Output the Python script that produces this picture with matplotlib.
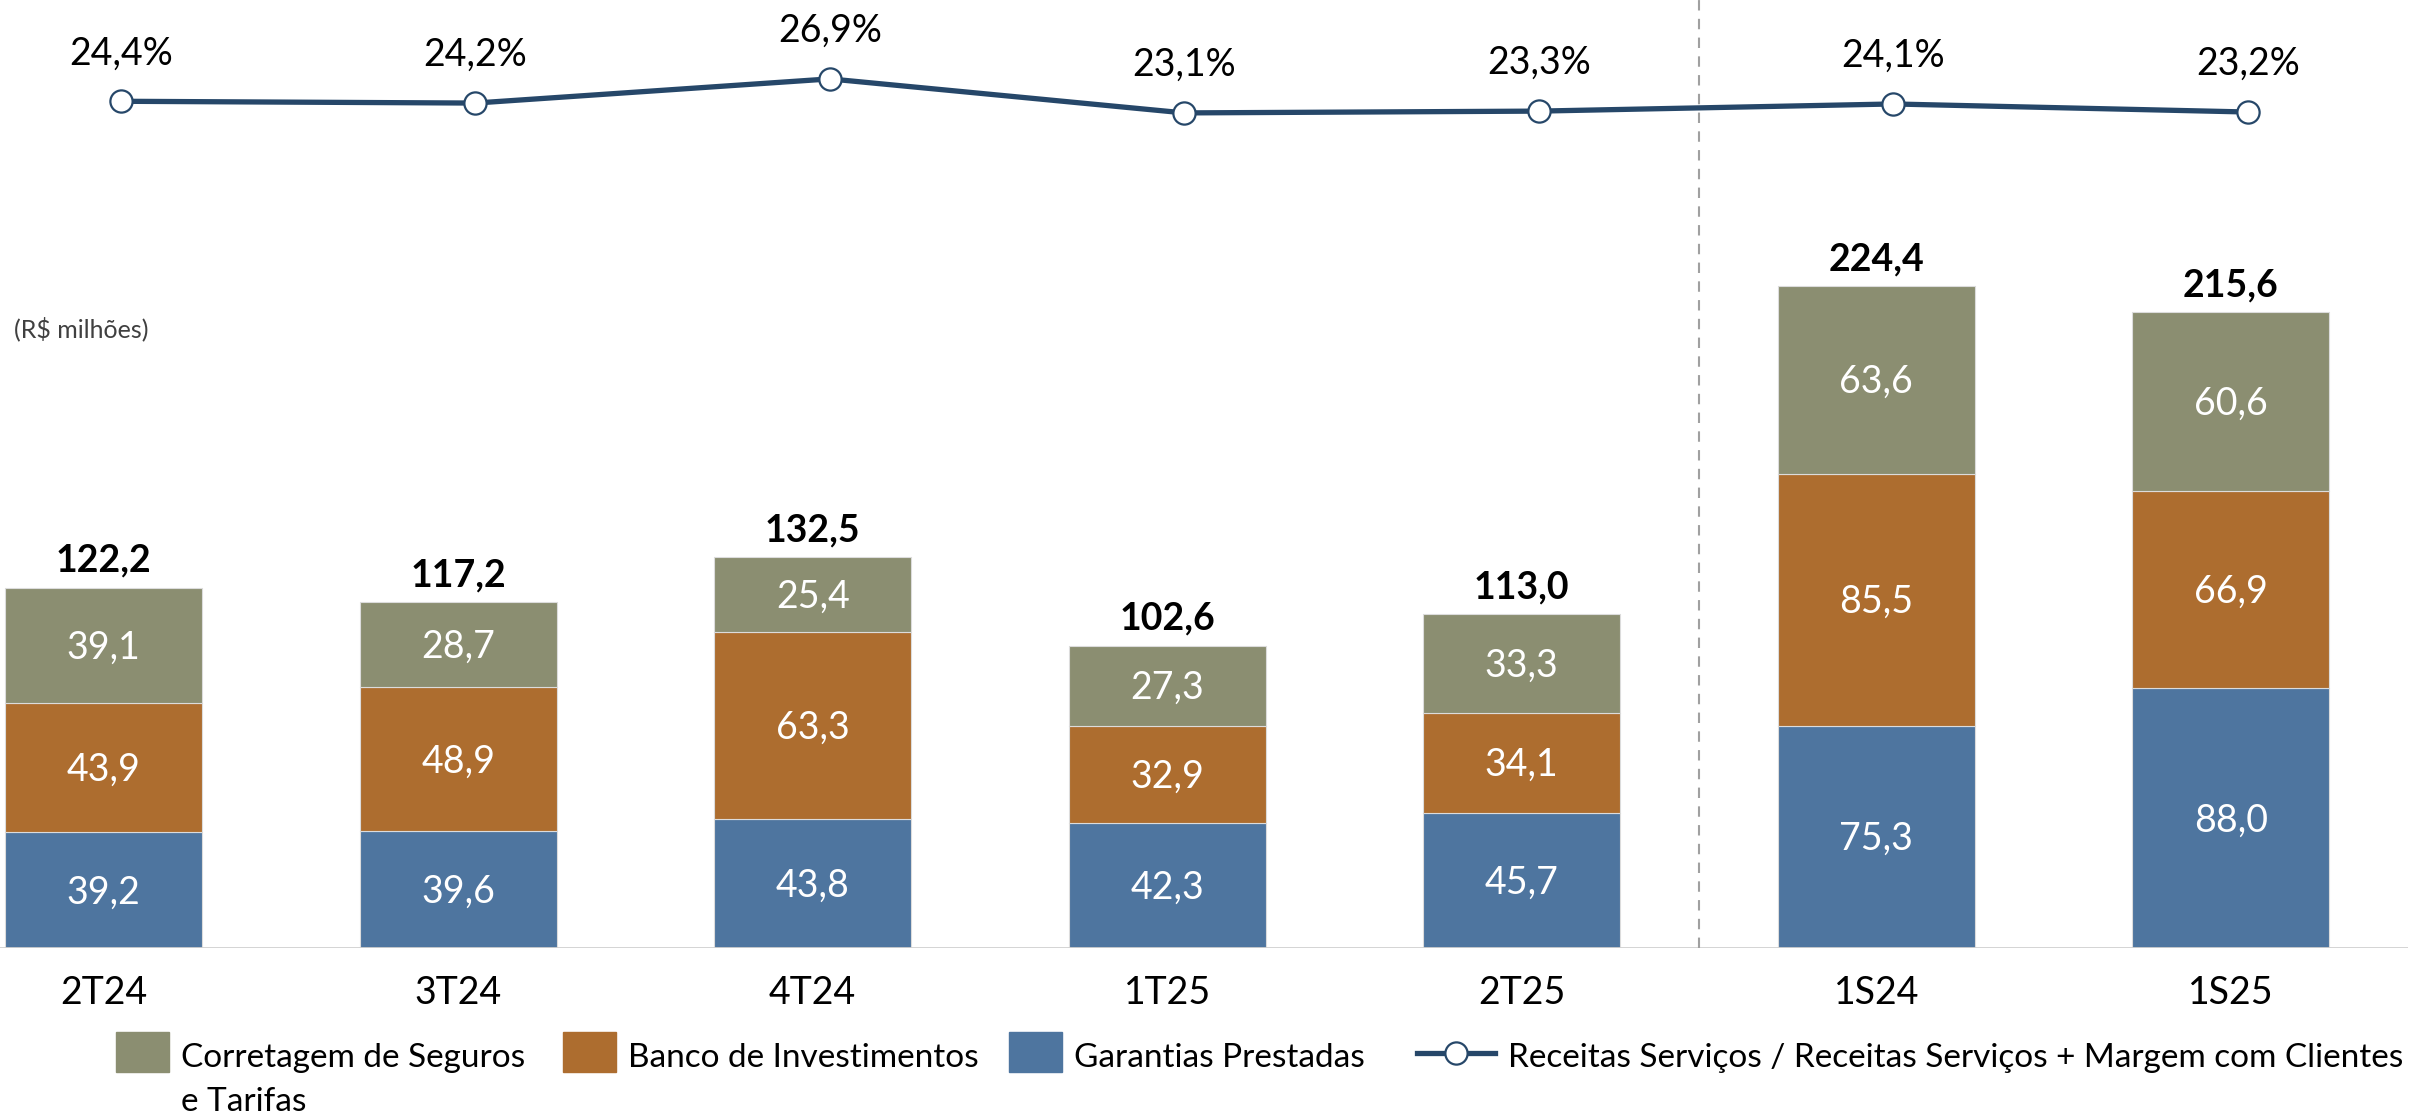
import matplotlib
matplotlib.use("Agg")
import matplotlib.pyplot as plt
from matplotlib.patches import Rectangle
from matplotlib.lines import Line2D
import numpy as np

plt.rcParams['font.family'] = ['Lato', 'DejaVu Sans']

# dados (R$ milhões)
cats = ['2T24', '3T24', '4T24', '1T25', '2T25', '1S24', '1S25']
garantias = [39.2, 39.6, 43.8, 42.3, 45.7, 75.3, 88.0]
banco = [43.9, 48.9, 63.3, 32.9, 34.1, 85.5, 66.9]
corretagem = [39.1, 28.7, 25.4, 27.3, 33.3, 63.6, 60.6]
totais = [122.2, 117.2, 132.5, 102.6, 113.0, 224.4, 215.6]
ratio = [24.4, 24.2, 26.9, 23.1, 23.3, 24.1, 23.2]

c_corr = '#8B8E71'
c_banco = '#AD6D2F'
c_gar = '#4E759F'
c_line = '#264769'

W, H = 2425, 1115
FS = 27


def fmt(v):
    return f"{v:.1f}".replace('.', ',')


fig = plt.figure(figsize=(W / 100, H / 100), dpi=100)
ax = fig.add_axes([0, (H - 948) / H, 2408 / W, 948 / H])
x = np.arange(len(cats))
bw = 0.555

g = np.array(garantias)
b = np.array(banco)
c = np.array(corretagem)
ax.bar(x, g, bw, color=c_gar, edgecolor='#dcdcdc', linewidth=0.8)
ax.bar(x, b, bw, bottom=g, color=c_banco, edgecolor='#dcdcdc', linewidth=0.8)
ax.bar(x, c, bw, bottom=g + b, color=c_corr, edgecolor='#dcdcdc', linewidth=0.8)

ax.set_xlim(-0.2925, 6.50)
ax.set_ylim(0, 948 / 2.95)
for s in ax.spines.values():
    s.set_visible(False)
ax.set_xticks([])
ax.set_yticks([])
ax.axhline(0, color='#d0d0d0', lw=2)
ax.axvline(4.5, color='#a0a0a0', lw=1.5, ls=(0, (5, 4)))

# rótulos internos
for i in range(len(cats)):
    bottoms = [0, g[i], g[i] + b[i]]
    vals = [g[i], b[i], c[i]]
    for bot, v in zip(bottoms, vals):
        ax.annotate(fmt(v), (x[i], bot + v / 2), xytext=(0, -9.5),
                    textcoords='offset points', ha='center', va='baseline',
                    color='white', fontsize=FS)
    ax.annotate(fmt(totais[i]), (x[i], g[i] + b[i] + c[i]), xytext=(0, 11.5),
                textcoords='offset points', ha='center', va='baseline',
                color='black', fontsize=FS, fontweight='bold')
    ax.annotate(cats[i], (x[i], 0), xytext=(0, -56 / 1.389),
                textcoords='offset points', ha='center', va='baseline',
                color='black', fontsize=FS)

# linha de participação (levemente deslocada para a direita, como no original)
ax2 = ax.twinx()
top = 26.9 + 78.9 / 8.95
ax2.set_ylim(top - 948 / 8.95, top)
ax2.set_yticks([])
for s in ax2.spines.values():
    s.set_visible(False)
xl = x + 0.048
ax2.plot(xl, ratio, color=c_line, lw=3.8, marker='o', markersize=16,
         markerfacecolor='white', markeredgecolor=c_line, markeredgewidth=1.6)
for i, v in enumerate(ratio):
    ax2.annotate(fmt(v) + '%', (xl[i], v), xytext=(0, 37 / 1.389),
                 textcoords='offset points', ha='center', va='baseline',
                 color='black', fontsize=FS)

fig.text(14 / W, 1 - 337 / H, '(R$ milhões)', fontsize=18, color='#404040',
         ha='left', va='baseline')

# legenda manual
def fx(px):
    return px / W


def fy(py):
    return 1 - py / H


LFS = 24
items = [(116, 181, c_corr, 'Corretagem de Seguros'),
         (563, 628, c_banco, 'Banco de Investimentos'),
         (1009, 1074, c_gar, 'Garantias Prestadas')]
for px0, tx, col, lab in items:
    fig.add_artist(Rectangle((fx(px0), fy(1072)), fx(53), 40 / H,
                             transform=fig.transFigure, color=col))
    fig.text(fx(tx), fy(1067), lab, fontsize=LFS, ha='left', va='baseline')
fig.text(fx(181), fy(1111), 'e Tarifas', fontsize=LFS, ha='left', va='baseline')
fig.add_artist(Line2D([fx(1417), fx(1495)], [fy(1053), fy(1053)],
                      transform=fig.transFigure, color=c_line, lw=3.8))
fig.add_artist(Line2D([fx(1456)], [fy(1053)], transform=fig.transFigure,
                      marker='o', markersize=16, markerfacecolor='white',
                      markeredgecolor=c_line, markeredgewidth=1.6))
fig.text(fx(1508), fy(1067),
         'Receitas Serviços / Receitas Serviços + Margem com Clientes',
         fontsize=LFS, ha='left', va='baseline')

fig.savefig('out.png', dpi=100)
